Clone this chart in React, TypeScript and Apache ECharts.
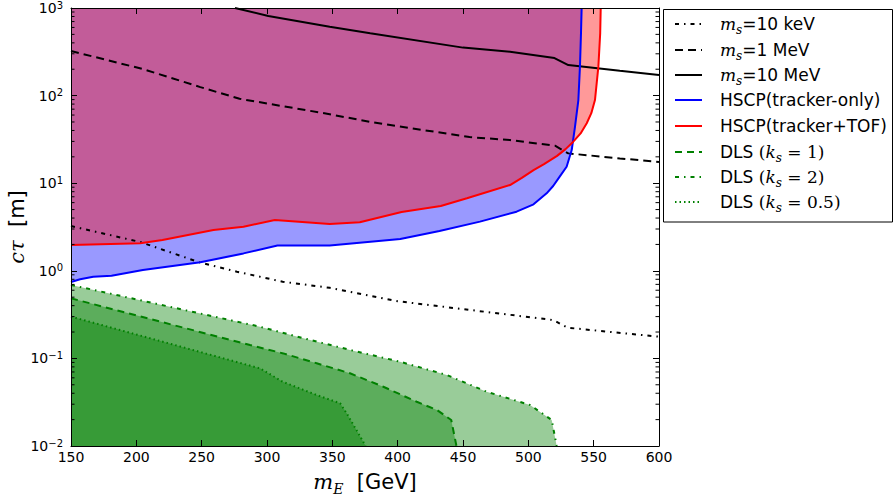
import React, { useEffect, useRef } from 'react';
import * as echarts from 'echarts';

// ---------- data ----------
const ms10keV_x = [150, 203, 249, 277, 312, 348, 400, 519, 530, 600];
const ms10keV_y = [3.24, 2.13, 1.24, 0.977, 0.75, 0.64, 0.45, 0.274, 0.224, 0.177];

const ms1MeV_x = [150, 205, 249, 279, 348, 379, 455, 486, 520.4, 530.6, 570, 600];
const ms1MeV_y = [323, 201, 125, 92, 61.3, 50, 33.6, 31.1, 26.8, 21.9, 19.2, 17.5];

const ms10MeV_x = [275.5, 301, 348, 379, 450, 486, 520, 530.6, 570, 600];
const ms10MeV_y = [1000, 811, 612, 514, 353, 317, 268, 223, 192, 172];

const hscpTrk_x = [150, 157, 167, 181, 205, 249, 282, 308, 348, 402, 432, 463, 491, 504, 514, 519, 524, 529.3, 533.2, 535.7, 538.3, 539.5, 540.3, 540.8];
const hscpTrk_y = [0.745, 0.8, 0.857, 0.88, 1.02, 1.25, 1.58, 1.94, 1.94, 2.31, 2.85, 3.64, 4.73, 5.74, 7.67, 9.3, 11.9, 15.4, 23.9, 44, 89, 214, 517, 1000];

const hscpTof_x = [150, 203, 220, 259, 282, 306, 348, 371, 403, 433, 453, 486, 495, 504, 512, 522, 528.5, 534.4, 540, 544.7, 548.2, 551, 553.6, 555, 555.4];
const hscpTof_y = [1.97, 2.06, 2.25, 2.92, 3.19, 3.8, 3.42, 3.58, 4.7, 5.5, 6.73, 9.53, 11.5, 14.1, 16.5, 20.5, 24.5, 29.8, 37, 48.3, 63, 89, 214, 517, 1000];

const dls1_x = [150, 287, 312.5, 338, 363.5, 389, 414.6, 430, 441, 445];
const dls1_y = [0.485, 0.142, 0.114, 0.088, 0.0676, 0.0475, 0.032, 0.0258, 0.0198, 0.01];

const dls2_x = [150, 294.6, 327.8, 363.5, 401.8, 437.5, 468, 501.3, 517.9, 521.7];
const dls2_y = [0.69, 0.23, 0.17, 0.125, 0.0916, 0.0647, 0.0417, 0.0294, 0.0198, 0.01];

const dls05_x = [150, 294.6, 312, 338, 356, 361, 375.5];
const dls05_y = [0.30, 0.077, 0.0542, 0.0382, 0.0307, 0.0236, 0.01];

const xTickLabels = ['150', '200', '250', '300', '350', '400', '450', '500', '550', '600'];
const decades = [0.01, 0.1, 1, 10, 100];
const minorMultipliers = [2, 3, 4, 5, 6, 7, 8, 9];

const legendLabels = [
  '{mi|m}{sub|s}{n|=10 keV}',
  '{mi|m}{sub|s}{n|=1 MeV}',
  '{mi|m}{sub|s}{n|=10 MeV}',
  '{n|HSCP(tracker-only)}',
  '{n|HSCP(tracker+TOF)}',
  '{n|DLS }{p|(}{mi|k}{sub|s}{p| = 1)}',
  '{n|DLS }{p|(}{mi|k}{sub|s}{p| = 2)}',
  '{n|DLS }{p|(}{mi|k}{sub|s}{p| = 0.5)}',
];

// ---------- styles ----------
const SANS = 'DejaVu Sans';
const SERIF = 'DejaVu Serif';
const DASH = [8, 5];
const DASHDOT = [4, 5, 1.5, 5];
const DOT = [1.5, 3];
const legendStyles = [
  { color: '#000000', dash: DASHDOT },
  { color: '#000000', dash: DASH },
  { color: '#000000', dash: null },
  { color: '#0000ff', dash: null },
  { color: '#ff0000', dash: null },
  { color: '#008000', dash: [7, 5] },
  { color: '#008000', dash: DASHDOT },
  { color: '#008000', dash: DOT },
];
const legendRows = [24, 50, 75, 100, 126, 152, 177, 202];

function pairs(xs: number[], ys: number[]) {
  return xs.map((x, i) => [x, ys[i]]);
}

function fillSeries(name: string, xs: number[], ys: number[], color: string, origin: 'start' | 'end') {
  return {
    name,
    type: 'line',
    data: pairs(xs, ys),
    symbol: 'none',
    silent: true,
    z: 2,
    lineStyle: { width: 0, opacity: 0 },
    areaStyle: { color, opacity: 0.4, origin },
  };
}

function lineSeries(name: string, xs: number[], ys: number[], color: string, type: any, width = 2) {
  return {
    name,
    type: 'line',
    data: pairs(xs, ys),
    symbol: 'none',
    silent: true,
    z: 4,
    lineStyle: { color, width, type },
  };
}

export default function App() {
  const ref = useRef<HTMLDivElement>(null);
  useEffect(() => {
    const chart = echarts.init(ref.current!, null, { renderer: 'svg' });

    const minorTicks: number[][] = [];
    decades.forEach((d) => minorMultipliers.forEach((m) => minorTicks.push([150, m * d])));

    const supRich = {
      b: { fontSize: 14, fontFamily: SANS, color: '#000', lineHeight: 16 },
      sup: { fontSize: 10, fontFamily: SANS, color: '#000', verticalAlign: 'top', lineHeight: 6 },
    };

    const legendGraphics: any[] = [
      {
        type: 'rect',
        shape: { x: 663.5, y: 9.5, width: 229, height: 212.5 },
        style: { fill: '#ffffff', stroke: '#000000', lineWidth: 1 },
        z: 100,
      },
    ];
    legendLabels.forEach((lab, i) => {
      const st = legendStyles[i];
      legendGraphics.push({
        type: 'line',
        shape: { x1: 675, y1: legendRows[i], x2: 702, y2: legendRows[i] },
        style: { stroke: st.color, lineWidth: 2, lineDash: st.dash || undefined },
        z: 101,
      });
      legendGraphics.push({
        type: 'text',
        x: 720,
        y: legendRows[i],
        z: 101,
        style: {
          text: lab,
          align: 'left',
          verticalAlign: 'middle',
          rich: {
            n: { fontSize: 17, fontFamily: SANS, fill: '#000', lineHeight: 24 },
            p: { fontSize: 17, fontFamily: SERIF, fill: '#000', lineHeight: 24 },
            mi: { fontSize: 17, fontFamily: SERIF, fontStyle: 'italic', fill: '#000', lineHeight: 24 },
            sub: { fontSize: 12, fontFamily: SERIF, fontStyle: 'italic', fill: '#000', lineHeight: 13, verticalAlign: 'bottom' },
          },
        },
      });
    });

    const option: any = {
      animation: false,
      grid: { left: 71, top: 8, width: 588, height: 438, outerBoundsMode: 'none', containLabel: false },
      xAxis: [
        {
          type: 'value',
          position: 'bottom',
          min: 150,
          max: 600,
          interval: 50,
          z: 10,
          axisLine: { show: true, onZero: false, lineStyle: { color: '#000', width: 1 } },
          axisTick: { show: true, inside: true, length: 6, lineStyle: { color: '#000' } },
          splitLine: { show: false },
          axisLabel: {
            margin: 4,
            fontSize: 14,
            fontFamily: SANS,
            color: '#000',
            formatter: (v: number) => xTickLabels[Math.round((v - 150) / 50)] ?? '',
          },
          name: '{mi|m}{sub|E}{n|  [GeV]}',
          nameLocation: 'middle',
          nameGap: 22,
          nameMoveOverlap: false,
          nameTextStyle: {
            rich: {
              n: { fontSize: 21, fontFamily: SANS, color: '#000', lineHeight: 28 },
              mi: { fontSize: 21, fontFamily: SERIF, fontStyle: 'italic', color: '#000', lineHeight: 28 },
              sub: { fontSize: 14, fontFamily: SERIF, fontStyle: 'italic', color: '#000', lineHeight: 15, verticalAlign: 'bottom' },
            },
          },
        },
        {
          type: 'value',
          position: 'top',
          min: 150,
          max: 600,
          interval: 50,
          z: 10,
          axisLine: { show: true, onZero: false, lineStyle: { color: '#000', width: 1 } },
          axisTick: { show: true, inside: true, length: 6, lineStyle: { color: '#000' } },
          splitLine: { show: false },
          axisLabel: { show: false },
        },
      ],
      yAxis: [
        {
          type: 'log',
          logBase: 10,
          position: 'left',
          min: 0.01,
          max: 1000,
          z: 10,
          axisLine: { show: true, onZero: false, lineStyle: { color: '#000', width: 1 } },
          axisTick: { show: true, inside: true, length: 6, lineStyle: { color: '#000' } },
          splitLine: { show: false },
          axisLabel: {
            margin: 8,
            rich: supRich,
            formatter: (v: number) => {
              const e = Math.round(Math.log10(v));
              return '{b|10}{sup|' + (e < 0 ? '\u2212' + -e : String(e)) + '}';
            },
          },
          name: '{mi|c\u03c4}{n|  [m]}',
          nameLocation: 'middle',
          nameRotate: 90,
          nameGap: 43,
          nameMoveOverlap: false,
          nameTextStyle: {
            rich: {
              n: { fontSize: 21, fontFamily: SANS, color: '#000', lineHeight: 22 },
              mi: { fontSize: 21, fontFamily: SERIF, fontStyle: 'italic', color: '#000', lineHeight: 22 },
            },
          },
        },
        {
          type: 'log',
          logBase: 10,
          position: 'right',
          min: 0.01,
          max: 1000,
          z: 10,
          axisLine: { show: true, onZero: false, lineStyle: { color: '#000', width: 1 } },
          axisTick: { show: true, inside: true, length: 6, lineStyle: { color: '#000' } },
          splitLine: { show: false },
          axisLabel: { show: false },
        },
      ],
      series: [
        fillSeries('fill tracker-only', hscpTrk_x, hscpTrk_y, '#0000ff', 'end'),
        fillSeries('fill tracker+TOF', hscpTof_x, hscpTof_y, '#ff0000', 'end'),
        fillSeries('fill DLS k=2', dls2_x, dls2_y, '#008000', 'start'),
        fillSeries('fill DLS k=1', dls1_x, dls1_y, '#008000', 'start'),
        fillSeries('fill DLS k=0.5', dls05_x, dls05_y, '#008000', 'start'),
        lineSeries('m_s=10 keV', ms10keV_x, ms10keV_y, '#000000', DASHDOT),
        lineSeries('m_s=1 MeV', ms1MeV_x, ms1MeV_y, '#000000', DASH),
        lineSeries('m_s=10 MeV', ms10MeV_x, ms10MeV_y, '#000000', 'solid'),
        lineSeries('HSCP(tracker-only)', hscpTrk_x, hscpTrk_y, '#0000ff', 'solid'),
        lineSeries('HSCP(tracker+TOF)', hscpTof_x, hscpTof_y, '#ff0000', 'solid'),
        lineSeries('DLS (k_s=1)', dls1_x, dls1_y, '#008000', [7, 5]),
        lineSeries('DLS (k_s=2)', dls2_x, dls2_y, '#008000', DASHDOT),
        lineSeries('DLS (k_s=0.5)', dls05_x, dls05_y, '#008000', DOT),
        {
          name: 'minor ticks',
          type: 'custom',
          silent: true,
          z: 12,
          clip: false,
          data: minorTicks,
          renderItem: (_p: any, api: any) => {
            const v = api.value(1);
            const l = api.coord([150, v]);
            const r = api.coord([600, v]);
            return {
              type: 'group',
              children: [
                { type: 'line', shape: { x1: l[0], y1: l[1], x2: l[0] + 3.5, y2: l[1] }, style: { stroke: '#000', lineWidth: 1 } },
                { type: 'line', shape: { x1: r[0] - 3.5, y1: r[1], x2: r[0], y2: r[1] }, style: { stroke: '#000', lineWidth: 1 } },
              ],
            };
          },
        },
      ],
      graphic: legendGraphics,
    };

    chart.setOption(option);
    return () => chart.dispose();
  }, []);

  return (
    <div
      ref={ref}
      style={{ position: 'fixed', left: 0, top: 0, width: 893, height: 497, background: '#ffffff' }}
    />
  );
}
